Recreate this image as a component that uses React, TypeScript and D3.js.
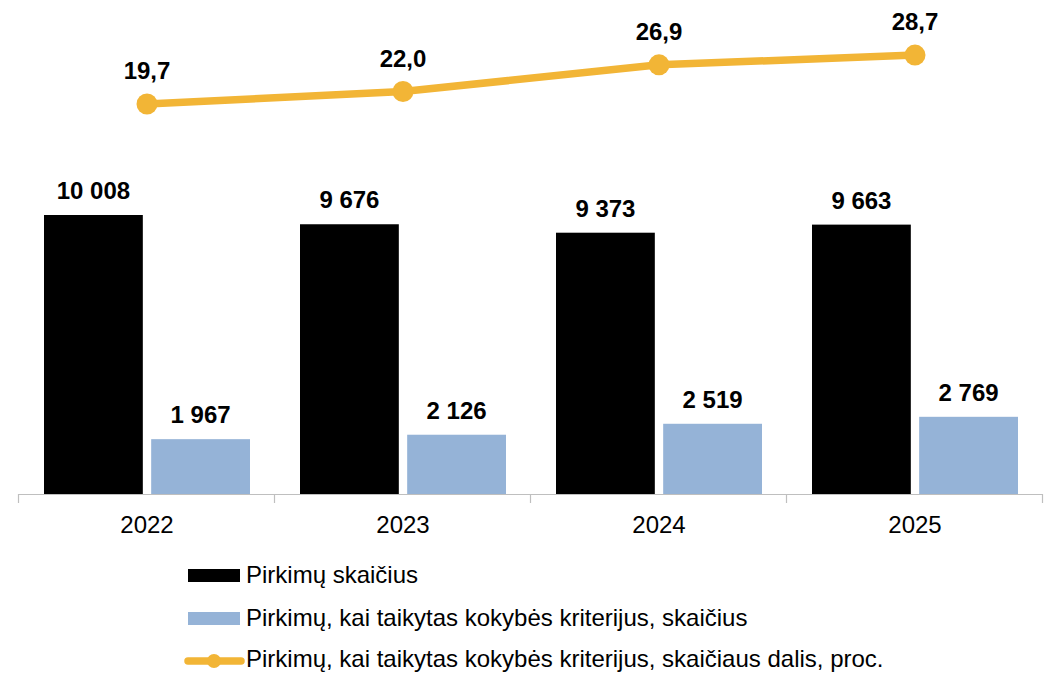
import React from "react";
import * as d3 from "d3";

const categories = ["2022", "2023", "2024", "2025"];
const totalPurchases = [10008, 9676, 9373, 9663];
const qualityPurchases = [1967, 2126, 2519, 2769];
const qualityShare = [19.7, 22.0, 26.9, 28.7];
const legendLabels = [
  "Pirkimų skaičius",
  "Pirkimų, kai taikytas kokybės kriterijus, skaičius",
  "Pirkimų, kai taikytas kokybės kriterijus, skaičiaus dalis, proc.",
];

const W = 1046;
const H = 674;
const FONT = "Liberation Sans, Arial, sans-serif";
const BLACK = "#000000";
const BLUE = "#95B3D7";
const ORANGE = "#F2B536";
const FS = 24;

const fmtInt = (v: number) => {
  const s = String(Math.round(v));
  return s.replace(/\B(?=(\d{3})+(?!\d))/g, " ");
};
const fmtDec = (v: number) => v.toFixed(1).replace(".", ",");

export default function App() {
  const x = d3.scaleBand<string>().domain(categories).range([19, 1043]).paddingInner(0).paddingOuter(0);
  const inner = d3.scaleBand<string>().domain(["a", "b"]).range([25, 231]).paddingInner(0.078);
  const y = d3.scaleLinear().domain([0, 10008]).range([494, 215]);
  const y2 = d3.scaleLinear().domain([0, 35]).range([211.2, 20.8]);

  const line = d3
    .line<number>()
    .x((_, i) => (x(categories[i]) as number) + x.bandwidth() / 2)
    .y((d) => y2(d));

  const boundaries = [...categories.map((c) => x(c) as number), (x(categories[3]) as number) + x.bandwidth()];

  return (
    <svg width={W} height={H} style={{ position: "absolute", left: 0, top: 0, background: "#fff" }} fontFamily={FONT}>
      {/* bars */}
      {categories.map((c, i) => {
        const x0 = x(c) as number;
        const xa = x0 + (inner("a") as number);
        const xb = x0 + (inner("b") as number);
        const bw = inner.bandwidth();
        return (
          <g key={c}>
            <rect x={xa} y={y(totalPurchases[i])} width={bw} height={y(0) - y(totalPurchases[i])} fill={BLACK} />
            <rect x={xb} y={y(qualityPurchases[i])} width={bw} height={y(0) - y(qualityPurchases[i])} fill={BLUE} />
            <text x={xa + bw / 2} y={y(totalPurchases[i]) - 16} textAnchor="middle" fontSize={FS} fontWeight="bold" fill="#000">
              {fmtInt(totalPurchases[i])}
            </text>
            <text x={xb + bw / 2} y={y(qualityPurchases[i]) - 16} textAnchor="middle" fontSize={FS} fontWeight="bold" fill="#000">
              {fmtInt(qualityPurchases[i])}
            </text>
          </g>
        );
      })}
      {/* axis */}
      <line x1={18} x2={1043} y1={494.5} y2={494.5} stroke="#BFBFBF" strokeWidth={1.2} />
      {boundaries.map((b, i) => (
        <line key={i} x1={b - 0.5} x2={b - 0.5} y1={494} y2={503} stroke="#BFBFBF" strokeWidth={1.2} />
      ))}
      {categories.map((c) => (
        <text key={c} x={(x(c) as number) + x.bandwidth() / 2} y={533} textAnchor="middle" fontSize={FS} fill="#000">
          {c}
        </text>
      ))}
      {/* line */}
      <path d={line(qualityShare) as string} fill="none" stroke={ORANGE} strokeWidth={7.5} strokeLinecap="round" />
      {qualityShare.map((v, i) => {
        const cx = (x(categories[i]) as number) + x.bandwidth() / 2;
        return (
          <g key={i}>
            <circle cx={cx} cy={y2(v)} r={10.5} fill={ORANGE} />
            <text x={cx} y={y2(v) - 25} textAnchor="middle" fontSize={FS} fontWeight="bold" fill="#000">
              {fmtDec(v)}
            </text>
          </g>
        );
      })}
      {/* legend */}
      <g>
        <rect x={188} y={569} width={52} height={13} fill={BLACK} />
        <text x={246} y={583} fontSize={FS} fill="#000">{legendLabels[0]}</text>
        <rect x={188} y={612} width={52} height={13} fill={BLUE} />
        <text x={246} y={626} fontSize={FS} fill="#000">{legendLabels[1]}</text>
        <line x1={188} x2={241} y1={661} y2={661} stroke={ORANGE} strokeWidth={7.5} strokeLinecap="round" />
        <circle cx={214} cy={661} r={7} fill={ORANGE} />
        <text x={246} y={667} fontSize={FS} fill="#000">{legendLabels[2]}</text>
      </g>
    </svg>
  );
}
